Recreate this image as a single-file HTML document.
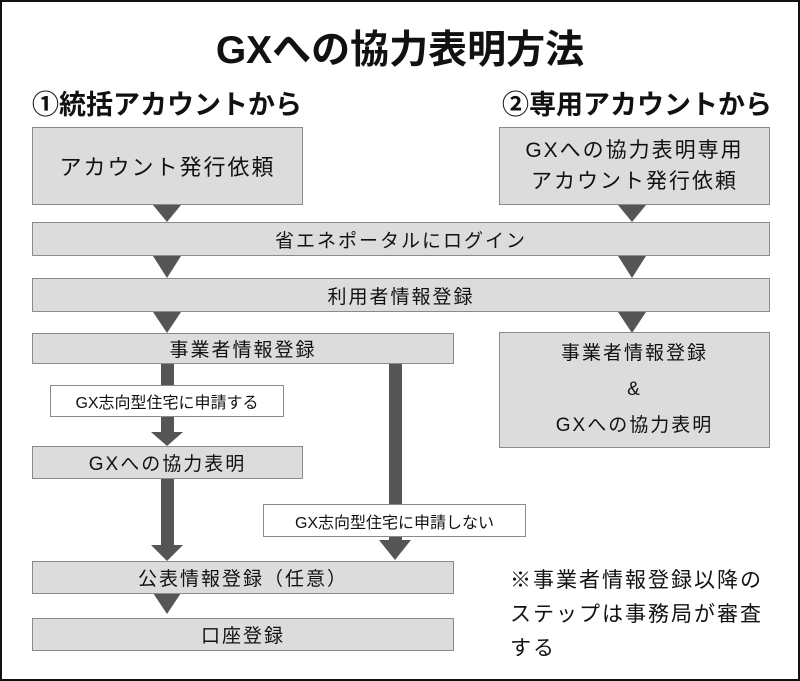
<!DOCTYPE html>
<html><head><meta charset="utf-8"><style>
body{margin:0;width:800px;height:681px;background:#fff;position:relative;overflow:hidden;font-family:"Liberation Sans","Noto Sans CJK JP",sans-serif;color:#111}
.frame{position:absolute;left:0;top:0;width:796px;height:677px;border:2px solid #111}
.b{position:absolute;background:#dcdcdc;border:1px solid #8a8a8a;box-sizing:border-box;display:flex;align-items:center;justify-content:center;text-align:center;font-size:19px;letter-spacing:2px}
.w{position:absolute;background:#fff;border:1px solid #8a8a8a;box-sizing:border-box;display:flex;align-items:center;justify-content:center;font-size:16px}
.t{position:absolute;white-space:nowrap}
svg{position:absolute;left:0;top:0}
</style></head><body>
<div class="frame"></div>
<div class="t" style="left:0;width:800px;text-align:center;top:19px;font-size:39px;font-weight:bold;">GXへの協力表明方法</div>
<div class="t" style="left:32px;top:83px;font-size:27px;font-weight:bold;">①統括アカウントから</div>
<div class="t" style="left:502px;top:83px;font-size:27px;font-weight:bold;">②専用アカウントから</div>
<svg width="800" height="681">
<g fill="#555">
<polygon points="153,205 181,205 167,222"/><polygon points="618,205 646,205 632,222"/>
<polygon points="153,256 181,256 167,278"/><polygon points="618,256 646,256 632,278"/>
<polygon points="153,312 181,312 167,333"/><polygon points="618,312 646,312 632,333"/>
<rect x="161" y="363" width="13" height="70"/><polygon points="151,432 183,432 167,446"/>
<rect x="161" y="478" width="13" height="68"/><polygon points="151,545 183,545 167,561"/>
<rect x="389" y="363" width="13" height="178"/><polygon points="379,540 411,540 395,560"/>
<polygon points="153,593 181,593 167,614"/>
</g></svg>
<div class="b" style="left:32px;top:127px;width:271px;height:78px;font-size:22px;">アカウント発行依頼</div>
<div class="b" style="left:499px;top:127px;width:271px;height:78px;font-size:21px;line-height:31px;">GXへの協力表明専用<br>アカウント発行依頼</div>
<div class="b" style="left:32px;top:222px;width:738px;height:34px;">省エネポータルにログイン</div>
<div class="b" style="left:32px;top:278px;width:738px;height:34px;">利用者情報登録</div>
<div class="b" style="left:32px;top:333px;width:422px;height:31px;">事業者情報登録</div>
<div class="b" style="left:499px;top:332px;width:271px;height:116px;line-height:36px;">事業者情報登録<br>&amp;<br>GXへの協力表明</div>
<div class="w" style="left:50px;top:385px;width:234px;height:32px;">GX志向型住宅に申請する</div>
<div class="b" style="left:32px;top:446px;width:271px;height:33px;">GXへの協力表明</div>
<div class="w" style="left:263px;top:504px;width:263px;height:33px;">GX志向型住宅に申請しない</div>
<div class="b" style="left:32px;top:561px;width:422px;height:33px;">公表情報登録（任意）</div>
<div class="b" style="left:32px;top:618px;width:422px;height:33px;">口座登録</div>
<div class="t" style="left:510px;top:564px;font-size:21px;line-height:34px;letter-spacing:2px;">※事業者情報登録以降の<br>ステップは事務局が審査<br>する</div>
</body></html>
